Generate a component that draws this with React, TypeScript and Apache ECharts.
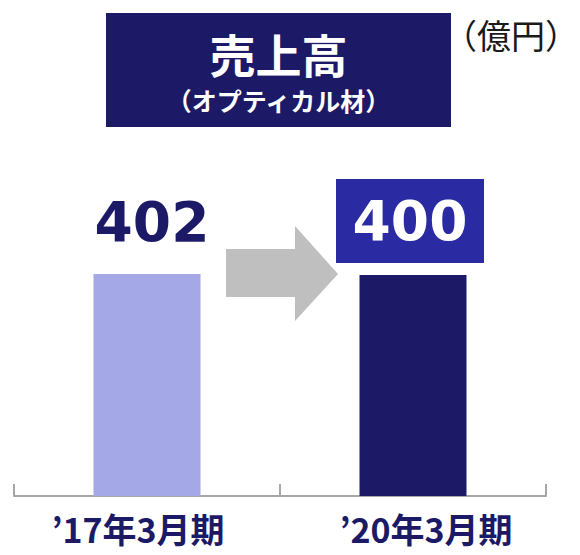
import React, { useEffect, useRef } from "react";
import * as echarts from "echarts";

const categories = ["’17年3月期", "’20年3月期"];
const values = [402, 400];
const barColors = ["#A5A8E6", "#1C1A66"];
const titleMain = "売上高";
const titleSub = "（オプティカル材）";
const unitText = "（億円）";

const NAVY = "#1C1A66";

export default function App() {
  const ref = useRef<HTMLDivElement>(null);
  useEffect(() => {
    document.body.style.margin = "0";
    const chart = echarts.init(ref.current!, null, { renderer: "svg" });
    const labelBase = {
      fontFamily: "Noto Sans CJK JP",
      fontWeight: "bold",
      fontSize: 34,
      lineHeight: 34,
      color: NAVY,
    };
    const option: any = {
      animation: false,
      backgroundColor: "#ffffff",
      grid: { left: 14, right: 34, top: 54, bottom: 59, containLabel: false },
      xAxis: {
        type: "category",
        data: categories,
        axisLine: { show: true, lineStyle: { color: "#A6A6A6", width: 2 } },
        axisTick: { show: true, inside: true, length: 12, lineStyle: { color: "#A6A6A6", width: 2 } },
        axisLabel: {
          margin: 15,
          formatter: (v: string, i: number) => (i === 0 ? `{a|${v}}` : `{b|${v}}`),
          rich: {
            a: { ...labelBase, padding: [0, 18, 0, 0] },
            b: { ...labelBase, padding: [0, 0, 0, 26] },
          },
        },
      },
      yAxis: {
        type: "value",
        min: 0,
        max: 800,
        show: false,
        splitLine: { show: false },
      },
      series: [
        {
          type: "bar",
          barWidth: 107,
          data: values.map((v, i) => ({
            value: v,
            itemStyle: { color: barColors[i] },
            label:
              i === 0
                ? {
                    show: true,
                    position: "top",
                    distance: 10,
                    offset: [5, 0],
                    fontFamily: "DejaVu Sans",
                    fontWeight: "bold",
                    fontSize: 55,
                    lineHeight: 84,
                    color: NAVY,
                  }
                : {
                    show: true,
                    position: "top",
                    distance: 12,
                    offset: [-3, 0],
                    fontFamily: "DejaVu Sans",
                    fontWeight: "bold",
                    fontSize: 55,
                    lineHeight: 84,
                    width: 148,
                    height: 84,
                    align: "center",
                    color: "#ffffff",
                    backgroundColor: "#2A2AA3",
                  },
          })),
        },
      ],
      graphic: [
        {
          type: "rect",
          shape: { x: 106, y: 13, width: 345, height: 114 },
          style: { fill: NAVY },
        },
        {
          type: "text",
          x: 278.5,
          y: 53,
          style: {
            text: titleMain,
            fontFamily: "Noto Sans CJK JP",
            fontWeight: "bold",
            fontSize: 46,
            lineHeight: 46,
            fill: "#ffffff",
            align: "center",
            verticalAlign: "middle",
          },
        },
        {
          type: "text",
          x: 278.5,
          y: 100,
          style: {
            text: titleSub,
            fontFamily: "Noto Sans CJK JP",
            fontWeight: "bold",
            fontSize: 25,
            lineHeight: 25,
            fill: "#ffffff",
            align: "center",
            verticalAlign: "middle",
          },
        },
        {
          type: "text",
          x: 579,
          y: 34,
          style: {
            text: unitText,
            fontFamily: "Noto Sans CJK JP",
            fontWeight: "normal",
            fontSize: 34,
            lineHeight: 34,
            fill: "#1a1a1a",
            align: "right",
            verticalAlign: "middle",
          },
        },
        {
          type: "polygon",
          shape: {
            points: [
              [226, 249],
              [295, 249],
              [295, 226],
              [338, 274],
              [295, 321],
              [295, 297],
              [226, 297],
            ],
          },
          style: { fill: "#BFBFBF" },
        },
      ],
    };
    chart.setOption(option);
    return () => chart.dispose();
  }, []);
  return <div ref={ref} style={{ width: 580, height: 555 }} />;
}
